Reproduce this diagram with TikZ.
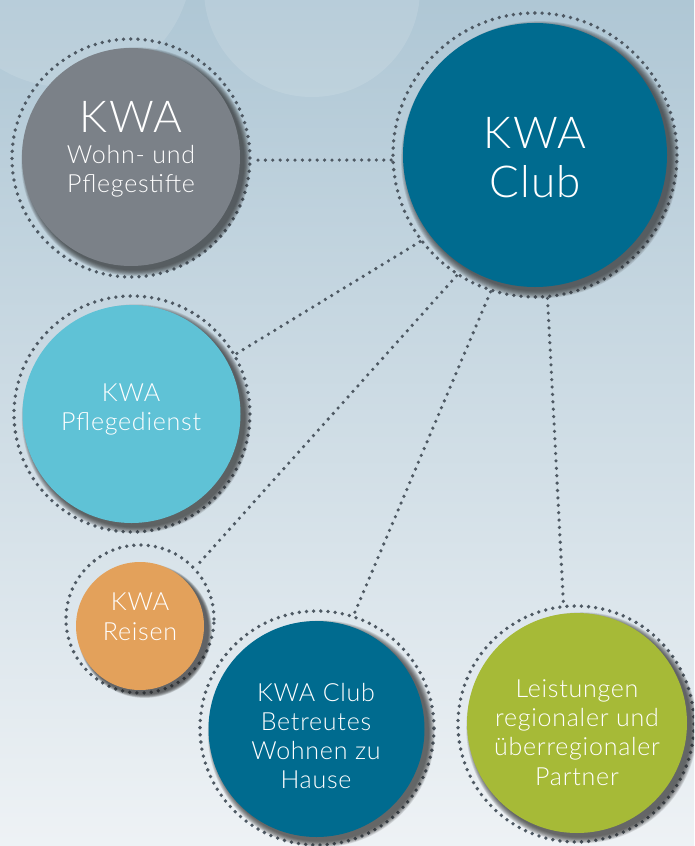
\documentclass[tikz,border=0pt]{standalone}
\usepackage{fontspec}
\setmainfont{Lato}[UprightFont={* Light}, LetterSpace=3]
\usetikzlibrary{shadows}
\definecolor{bgtop}{HTML}{AFC7D5}
\definecolor{bgbot}{HTML}{EEF2F5}
\definecolor{dotc}{HTML}{4E5963}
\definecolor{kgrey}{HTML}{7B8188}
\definecolor{kblue}{HTML}{006B8F}
\definecolor{klight}{HTML}{5FC2D6}
\definecolor{korange}{HTML}{E3A15B}
\definecolor{kgreen}{HTML}{A6BA37}
\begin{document}
\begin{tikzpicture}[x=1pt,y=-1pt,
  ring/.style={circle, draw=dotc, line width=3.8pt, dash pattern=on 0pt off 7.2pt,
    line cap=round, inner sep=0pt, minimum size=#1},
  sh/.style={general shadow={fill=black!85, opacity=0.13, shadow xshift=4.5pt, shadow yshift=-4.5pt, shadow scale=#1}},
  softshadow/.style={sh=1.05, sh=1.043, sh=1.036, sh=1.029, sh=1.022, sh=1.015, sh=1.008, sh=1.0},
  disc/.style={circle, fill=#1, inner sep=0pt, softshadow},
  link/.style={draw=dotc, line width=3.6pt, dash pattern=on 0pt off 7.4pt, line cap=round},
  txt/.style={text=white, anchor=base, inner sep=0pt, font=\fontsize{25}{29}\selectfont},
  bigtxt/.style={text=white, anchor=base, inner sep=0pt, font=\fontsize{44}{50}\selectfont}]
\useasboundingbox (0,0) rectangle (694,846);
\clip (0,0) rectangle (694,846);
% background
\shade[top color=bgtop, bottom color=bgbot] (0,0) rectangle (694,846);
\fill[white, opacity=0.12] (66,-39) circle (126);
\fill[white, opacity=0.12] (312,-11) circle (108);

% rings
\node[ring=238] (grey) at (131,158) {};
\node[ring=284] (club) at (535,155) {};
\node[ring=236] (pflege) at (132,414) {};
\node[ring=148] (reisen) at (140,619) {};
\node[ring=234] (wohnen) at (317,728) {};
\node[ring=236] (partner) at (576,724) {};

% connectors
\draw[link] (club.182) -- (grey.-1.5);
\draw[link] (club.217) -- (pflege.30);
\draw[link] (club.237) -- (reisen.43);
\draw[link] (club.252) -- (wohnen.72);
\draw[link] (club.275) -- (partner.96);

% discs
\node[disc=kgrey, minimum size=218] (greyd) at (131,157) {};
\node[disc=kblue, minimum size=264] (clubd) at (535,155) {};
\node[disc=klight, minimum size=218] (pfleged) at (131.5,414) {};
\node[disc=korange, minimum size=128] (reisend) at (140,626) {};
\node[disc=kblue, minimum size=216] (wohnend) at (316.5,729) {};
\node[disc=kgreen, minimum size=220] (partnerd) at (577,723) {};

% texts
\node[bigtxt] (t1) at (131,132) {KWA};
\node[txt] (t2) at (131,163) {Wohn- und};
\node[txt] (t3) at (131,192) {Pflegestifte};

\node[bigtxt] (t4) at (535,148) {KWA};
\node[bigtxt] (t5) at (535,197) {Club};

\node[txt] (t6) at (131,401) {KWA};
\node[txt] (t7) at (131,430) {Pflegedienst};

\node[txt] (t8) at (140,610) {KWA};
\node[txt] (t9) at (140,640) {Reisen};

\node[txt] (t10) at (316,701) {KWA Club};
\node[txt] (t11) at (316,730) {Betreutes};
\node[txt] (t12) at (316,759) {Wohnen zu};
\node[txt] (t13) at (316,788) {Hause};

\node[txt] (t14) at (577,697) {Leistungen};
\node[txt] (t15) at (577,726) {regionaler und};
\node[txt] (t16) at (577,755) {überregionaler};
\node[txt] (t17) at (577,785) {Partner};
\end{tikzpicture}
\end{document}
